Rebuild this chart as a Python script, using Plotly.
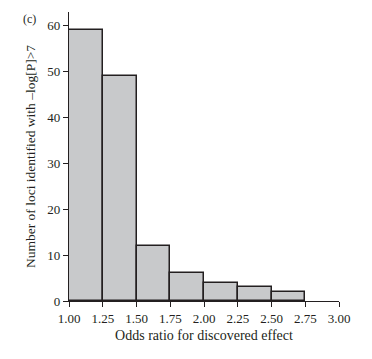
import plotly.graph_objects as go

bin_left = [1.00, 1.25, 1.50, 1.75, 2.00, 2.25, 2.50]
counts = [59, 49, 12, 6, 4, 3, 2]
bin_width = 0.25
x_ticks = [1.00, 1.25, 1.50, 1.75, 2.00, 2.25, 2.50, 2.75, 3.00]
y_ticks = [0, 10, 20, 30, 40, 50, 60]

font_family = "Liberation Serif, DejaVu Serif, serif"
ink = "#231f20"

fig = go.Figure(go.Bar(
    x=bin_left, y=counts, width=[bin_width] * len(counts), offset=0,
    marker=dict(color="#c8c9cb", line=dict(color=ink, width=1.5)),
))

fig.update_layout(
    width=364, height=351,
    margin=dict(l=61, r=33, t=4, b=58),
    paper_bgcolor="white", plot_bgcolor="white",
    showlegend=False,
    font=dict(family=font_family, size=13, color=ink),
    bargap=0,
)
fig.add_annotation(text="(c)", xref="paper", yref="paper", x=-0.148, y=0.976,
                   xanchor="center", yanchor="middle", showarrow=False,
                   font=dict(size=12, family=font_family, color=ink))

fig.update_xaxes(
    range=[1, 3], tickvals=x_ticks, ticktext=[f"{v:.2f}" for v in x_ticks],
    showline=True, linecolor=ink, linewidth=1.2,
    ticks="outside", ticklen=5, tickcolor=ink, tickwidth=1.2,
    showgrid=False, zeroline=False, automargin=False,
    title=dict(text="Odds ratio for discovered effect", standoff=5, font=dict(size=14)),
    tickfont=dict(size=13),
)
fig.update_yaxes(
    range=[0, 63], tickvals=y_ticks,
    showline=True, linecolor=ink, linewidth=1.2,
    ticks="outside", ticklen=5, tickcolor=ink, tickwidth=1.2,
    showgrid=False, zeroline=False, automargin=False,
    title=dict(text="Number of loci identified with \u2013log[P]>7", standoff=8, font=dict(size=13.5)),
    tickfont=dict(size=13),
)

fig.write_html("out.html")
